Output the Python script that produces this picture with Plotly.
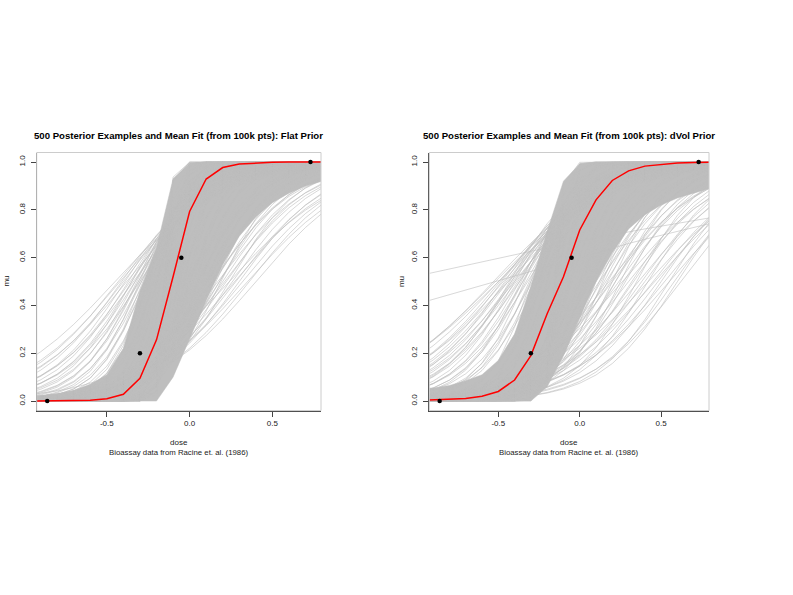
import numpy as np
import plotly.graph_objects as go

FONT = "Liberation Sans, Arial, sans-serif"
GRAY = "#BEBEBE"
TXT = "#222222"

# Bioassay data (Racine et al. 1986): dose and observed death fraction
dose = [-0.86, -0.30, -0.05, 0.73]
frac = [0.0, 0.2, 0.6, 1.0]

# dose grid the curves were drawn on
grid = [-1.0, -0.9, -0.8, -0.7, -0.6, -0.5, -0.4, -0.3, -0.2, -0.1,
        0.0, 0.1, 0.2, 0.3, 0.4, 0.5, 0.6, 0.7, 0.8]

x_ticks = [-0.5, 0.0, 0.5]
x_ticktext = ["-0.5", "0.0", "0.5"]
y_ticks = [0.0, 0.2, 0.4, 0.6, 0.8, 1.0]
y_ticktext = ["0.0", "0.2", "0.4", "0.6", "0.8", "1.0"]

# mean fit
flat_mean = [0.000, 0.000, 0.001, 0.002, 0.003, 0.010, 0.028, 0.095, 0.256, 0.52,
             0.793, 0.929, 0.977, 0.992, 0.997, 0.999, 1.0, 1.0, 1.0]
dvol_mean = [0.002, 0.004, 0.007, 0.011, 0.020, 0.040, 0.088, 0.190, 0.365, 0.52,
             0.716, 0.842, 0.923, 0.963, 0.983, 0.991, 0.996, 0.998, 0.999]

# band where the 500 gray curves are packed solid
flat_band_hi = [0.015, 0.02, 0.03, 0.045, 0.07, 0.11, 0.22, 0.46, 0.64, 0.93,
                0.995, 1, 1, 1, 1, 1, 1, 1, 1]
flat_band_lo = [0, 0, 0, 0, 0, 0, 0, 0, 0, 0.10,
                0.26, 0.42, 0.57, 0.69, 0.77, 0.83, 0.87, 0.90, 0.92]
dvol_band_hi = [0.05, 0.055, 0.065, 0.085, 0.11, 0.17, 0.28, 0.48, 0.71, 0.92,
                0.993, 1, 1, 1, 1, 1, 1, 1, 1]
dvol_band_lo = [0, 0, 0, 0, 0, 0, 0, 0, 0.06, 0.19,
                0.35, 0.50, 0.62, 0.72, 0.78, 0.82, 0.85, 0.87, 0.89]

# individual posterior curves, as (dose at 50%, slope)
flat_ld50 = [-0.45, -0.42, -0.40, -0.38, -0.36, -0.34, -0.33, -0.31, -0.30, -0.29,
             -0.27, -0.26, -0.24, -0.23, -0.21,
             -0.37, -0.35, -0.31, -0.29, -0.27, -0.41, -0.43, -0.33, -0.25, -0.39,
             0.40, 0.32, 0.24, 0.26, 0.20, 0.17, 0.15, 0.13, 0.10, 0.09,
             0.06, 0.04, 0.03, 0.01, 0.12,
             0.18, 0.21, 0.27, 0.30, 0.14, 0.11, 0.08, 0.05, 0.02, 0.00,
             0.24, 0.36, 0.19, 0.10, 0.13,
             -0.16, -0.15, -0.14, -0.13, -0.12, -0.11, -0.10, -0.09, -0.08, -0.07,
             -0.06, -0.05, -0.04, -0.03, -0.02, -0.18, -0.20, -0.17, -0.13, -0.09,
             -0.22, -0.06, 0.00, -0.11, -0.15,
             -0.25, -0.22, -0.28, -0.26, -0.20, -0.30, -0.32, -0.35, -0.24, -0.19,
             0.05, 0.02, 0.00, 0.07, 0.08, 0.11, 0.14, 0.18, 0.22, 0.28,
             0.35, 0.04, -0.01, 0.06, 0.16,
             -0.14, -0.15, -0.12, -0.10, -0.06, -0.03]
flat_slope = [3.0, 3.3, 3.6, 3.4, 4.0, 3.8, 4.4, 4.8, 4.2, 5.2,
              5.6, 6.2, 6.8, 7.5, 8.0,
              4.4, 4.6, 5.5, 6.0, 6.8, 3.9, 3.5, 5.2, 7.5, 4.2,
              3.25, 3.4, 3.0, 3.9, 4.2, 3.6, 4.6, 5.0, 4.4, 5.6,
              6.2, 5.0, 7.0, 8.0, 6.5,
              4.4, 3.7, 3.3, 3.8, 4.0, 4.8, 5.2, 5.5, 6.8, 7.5,
              4.6, 3.5, 5.6, 6.8, 3.8,
              45, 35, 28, 38, 24, 30, 20, 17, 26, 14,
              12, 18, 11, 13, 9.5, 18, 12, 10, 9, 8,
              9, 7.5, 8.5, 11, 14,
              9, 11, 7, 8.5, 10, 6.5, 5.8, 5, 12, 13,
              8, 10, 12, 7.2, 9, 6, 5.4, 4.8, 4.0, 3.6,
              3.1, 11, 14, 5.8, 6,
              60, 50, 40, 32, 22, 16]

dvol_ld50 = [-1.15, -0.525,
             -0.52, -0.50, -0.47, -0.45, -0.44, -0.42, -0.40, -0.38, -0.37, -0.35,
             -0.33, -0.32, -0.30, -0.28, -0.26, -0.25, -0.23,
             -0.49, -0.44, -0.41, -0.39, -0.35, -0.31, -0.29, -0.43, -0.50, -0.37,
             0.62, 0.60, 0.55, 0.50, 0.45, 0.42, 0.38, 0.35, 0.32, 0.28,
             0.25, 0.22, 0.20, 0.17, 0.14, 0.12, 0.10, 0.08, 0.05,
             0.40, 0.33, 0.27, 0.22, 0.15, 0.12, 0.07, 0.04, 0.01, 0.48,
             0.55, 0.18, 0.26, 0.42,
             -0.16, -0.15, -0.14, -0.13, -0.12, -0.11, -0.10, -0.09, -0.08, -0.07,
             -0.06, -0.05, -0.04, -0.02, 0.00, -0.20, -0.18, -0.22, -0.25, -0.12,
             0.02, -0.08, 0.04,
             -0.30, -0.27, -0.34, -0.36, -0.40, -0.42, -0.46, -0.48, -0.24, -0.20,
             -0.53,
             0.00, 0.03, 0.06, 0.09, 0.13, 0.16, 0.19, 0.24, 0.30, 0.36,
             0.46, 0.52, 0.58, 0.10, 0.20,
             -0.15, -0.14, -0.12, -0.10, -0.06]
dvol_slope = [0.61, 0.80,
              2.8, 3.0, 3.2, 3.5, 3.0, 3.8, 3.4, 4.2, 3.9, 4.6,
              5.0, 4.4, 5.6, 6.0, 6.8, 5.2, 7.5,
              3.3, 3.6, 4.0, 3.7, 5.2, 6.2, 5.0, 4.6, 2.7, 4.8,
              3.6, 4.2, 3.2, 4.0, 3.5, 4.5, 3.8, 5.0, 4.2, 4.8,
              5.5, 4.4, 6.0, 5.2, 6.5, 5.8, 7.0, 8.0, 6.4,
              3.7, 4.0, 4.4, 5.0, 5.2, 4.0, 4.6, 5.0, 6.0, 3.6,
              4.4, 3.4, 3.2, 3.0,
              30, 22, 16, 26, 12, 18, 10, 14, 8.5, 11,
              7.5, 9, 6.8, 8, 6.5, 9, 7, 6, 8, 6,
              9.5, 20, 7,
              8, 9.5, 6.4, 5.6, 4.8, 4.4, 3.9, 3.6, 11, 12,
              2.9,
              9, 7.8, 5.6, 6, 4.8, 4.4, 4.0, 3.8, 3.5, 3.3,
              3.1, 3.4, 3.9, 4.2, 3.6,
              45, 35, 28, 22, 15]

panels = [
    ("500 Posterior Examples and Mean Fit (from 100k pts): Flat Prior",
     flat_band_hi, flat_band_lo, flat_ld50, flat_slope, flat_mean),
    ("500 Posterior Examples and Mean Fit (from 100k pts): dVol Prior",
     dvol_band_hi, dvol_band_lo, dvol_ld50, dvol_slope, dvol_mean),
]

g = np.array(grid)
fig = go.Figure()
annotations = []
shapes = []

for i, (title, hi, lo, ld50, slope, mean) in enumerate(panels):
    xa = "x" if i == 0 else "x2"
    ya = "y" if i == 0 else "y2"
    fig.add_trace(go.Scatter(
        x=grid + grid[::-1], y=hi + lo[::-1], xaxis=xa, yaxis=ya,
        fill="toself", fillcolor=GRAY, mode="lines",
        line=dict(color=GRAY, width=0.5), hoverinfo="skip"))
    for c, s in zip(ld50, slope):
        mu = 1.0 / (1.0 + np.exp(-s * (g - c)))
        fig.add_trace(go.Scatter(
            x=grid, y=mu, xaxis=xa, yaxis=ya, mode="lines",
            line=dict(color=GRAY, width=0.6), hoverinfo="skip"))
    fig.add_trace(go.Scatter(
        x=grid, y=mean, xaxis=xa, yaxis=ya, mode="lines",
        line=dict(color="#FF0000", width=1.5)))
    fig.add_trace(go.Scatter(
        x=dose, y=frac, xaxis=xa, yaxis=ya, mode="markers",
        marker=dict(color="black", size=4.5), cliponaxis=False))

    dx = "x domain" if i == 0 else "x2 domain"
    dy = "y domain" if i == 0 else "y2 domain"
    shapes.append(dict(type="rect", xref=dx, yref=dy, x0=0, x1=1, y0=0, y1=1,
                       line=dict(color="#CCCCCC", width=1), layer="above"))
    annotations += [
        dict(text="<b>" + title + "</b>", xref=dx, yref="paper", x=0.5, y=1 - 135.7 / 595,
             showarrow=False, font=dict(size=9.6, color="black"), yanchor="middle"),
        dict(text="dose", xref=dx, yref="paper", x=0.5, y=1 - 442.5 / 595,
             showarrow=False, font=dict(size=8, color=TXT), yanchor="middle"),
        dict(text="Bioassay data from Racine et. al. (1986)", xref=dx, yref="paper",
             x=0.5, y=1 - 452.5 / 595, showarrow=False,
             font=dict(size=7.8, color=TXT), yanchor="middle"),
        dict(text="mu", xref="paper", yref=dy, x=(7 if i == 0 else 401.5) / 793, y=0.5,
             textangle=-90, showarrow=False, font=dict(size=8, color=TXT),
             xanchor="center"),
    ]

xcommon = dict(range=[-0.9236, 0.7936], tickvals=x_ticks, ticktext=x_ticktext,
               ticks="outside", ticklen=5, tickcolor="#444", showline=True,
               linecolor="#444", linewidth=1, showgrid=False, zeroline=False,
               tickfont=dict(size=8, color=TXT))
ycommon = dict(range=[-0.04, 1.04], tickvals=y_ticks, ticktext=y_ticktext,
               ticks="outside", ticklen=5, tickcolor="#444", showline=True,
               linecolor="#444", linewidth=1, showgrid=False, zeroline=False,
               tickangle=-90, ticklabelstandoff=3, tickfont=dict(size=8, color=TXT))

fig.update_layout(
    width=793, height=595,
    margin=dict(l=0, r=0, t=0, b=0),
    paper_bgcolor="white", plot_bgcolor="white",
    font=dict(family=FONT, size=8, color=TXT),
    showlegend=False,
    xaxis=dict(domain=[36.7 / 793, 321 / 793], anchor="y", **xcommon),
    yaxis=dict(domain=[1 - 410.6 / 595, 1 - 152.5 / 595], anchor="x", **ycommon),
    xaxis2=dict(domain=[429.3 / 793, 709 / 793], anchor="y2", **xcommon),
    yaxis2=dict(domain=[1 - 410.6 / 595, 1 - 152.5 / 595], anchor="x2", **ycommon),
    annotations=annotations,
    shapes=shapes,
)

# the page's default body margin would push the figure 8px right and down
fig.write_html("out.html", config={"displayModeBar": False},
               post_script="document.body.style.margin='0';")
